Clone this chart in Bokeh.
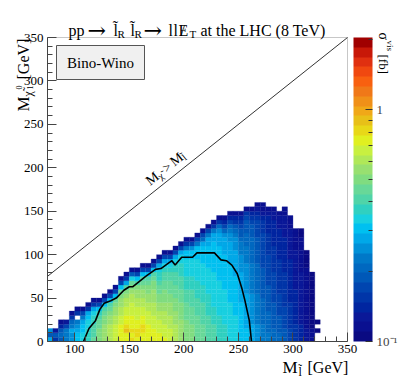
import math
from bokeh.plotting import figure
from bokeh.models import (LogColorMapper, ColorBar, FixedTicker, Label, BoxAnnotation,
                          ColumnDataSource, Range1d)
from bokeh.embed import file_html
from bokeh.resources import INLINE

# ---------------- data ----------------
x_bin_low = [75, 80, 85, 90, 95, 100, 105, 110, 115, 120, 125, 130, 135, 140, 145,
             150, 155, 160, 165, 170, 175, 180, 185, 190, 195, 200, 205, 210, 215, 220,
             225, 230, 235, 240, 245, 250, 255, 260, 265, 270, 275, 280, 285, 290, 295,
             300, 305, 310, 315, 320]
y_bin_size = 5
# colour-band index of every cell, one string per x bin, from y = 0 upwards ("." = empty)
column_levels = [
    "A69", "462", "67631", "88852", "99A8741", "BBA98.41", "CCBBA851", "DDDCCBA41",
    "FEEEDDCA41", "GGGFFEDB51", "HHHHGGFEB51", "IIIIHHGFEB51", "JJJJIIHHGFB51",
    "KKKKJJIIHHGFB51", "KKMLKKJJIIHGEA41", "LKLKKKJJJIIHGFC61", "KLLKKJJJIIHHGEB51",
    "KKLLKKJJIIHHGFEB51", "KKKKJJJIIHHGGFEB51", "KKKJJJIIIHHHGGFEB51",
    "KKJJJIIHHGGFFEDDCA51", "KJJJIIIHHGGGFFEEDCA51", "JJJIIIHHHGGFFFEEDCA51",
    "IIIIHHHGGGFFFEEEDDCA51", "HHHHHGGGGFFFEEEDDDCCA51", "GGGGGFFFFEEEDDDCCCCBB841",
    "GGGGFFFFEEEEDDDCCCCBB951", "FFFFFFEEEEDDDDCCCCCBBB851", "FFFFEEEEEDDDDCCCCCBBBBA751",
    "EEEEEEDDDDDCCCCCCBBBBBAA851", "EEEEDDDDCCCCCCCCBBBBBBBAA841",
    "DDDDDDCCCCCCCCBBBBBBBBAAA9741", "DDDDCCCCCCCCBBBBBBBBAAAA97531",
    "CCCCCCCCCBBBBBBBBBAAAAA9987531", "CCCCCCBBBBBBBBBAAAAAA999876431",
    "BBBBBBBBBAAAAAAA99998887665431", "BBBAAAAAAAA99999998888777666541",
    "AAAA999999988888887777776665431", "99998888888777777766666655554321",
    "88887777776666666555555554443211", "8877777666666555555544444333321",
    "7776666665555555444444333333221", "776666555554444444433333332221",
    "6665555544444444333333332222211", "55544444433333333332222222111",
    "44443333333322222222211111", "33332222222222221111111100",
    "222111111111111110000", "1110000000000000", "..0.0",
]
contour_x = [108, 113, 119, 123, 127, 133, 138, 145, 150, 153, 165, 174, 179, 189,
             192, 198, 208, 212, 228, 234, 239, 244, 249, 253, 256, 260, 262]
contour_y = [0, 15, 24, 37, 44, 47, 50, 59, 63, 63, 75, 83, 84, 93,
             88, 97, 97, 102, 102, 94, 93, 88, 78, 62, 47, 24, 0]
diag_x = [75, 350]
diag_y = [75, 350]

x_lim = (75, 350)
y_lim = (0, 350)
x_ticks = [100, 150, 200, 250, 300, 350]
y_ticks = [0, 50, 100, 150, 200, 250, 300, 350]
x_minor = [80, 90, 110, 120, 130, 140, 160, 170, 180, 190, 210, 220, 230, 240, 260,
           270, 280, 290, 310, 320, 330, 340]
y_minor = [10, 20, 30, 40, 60, 70, 80, 90, 110, 120, 130, 140, 160, 170, 180, 190,
           210, 220, 230, 240, 260, 270, 280, 290, 310, 320, 330, 340]
z_low, z_high = 0.1, 2.05
cbar_ticks = [0.1, 1]
cbar_minor = [0.2, 0.3, 0.4, 0.5, 0.6, 0.7, 0.8, 0.9, 2]
cbar_labels = {0.1: "10\u207b\u00b9", 1: "1"}

palette = ["#0a0a82", "#0a1090", "#0a1898", "#0025a0", "#0035a8", "#0045b0", "#0058b8",
           "#0068c0", "#0078c8", "#0090d8", "#00a8e8", "#00c0f0", "#18d0e0", "#30d0c0",
           "#50d4a8", "#68d898", "#80dc80", "#98e070", "#b0e858", "#c8f040", "#e0f020",
           "#e8d818", "#e8c018", "#f0a818", "#f09018", "#f07818", "#f86010", "#f04810",
           "#e03010", "#c81808", "#a00000"]

# ---------------- build cells ----------------
CODES = "0123456789ABCDEFGHIJKLMNOPQRSTU"
nb = len(palette)
xs, ys, zs = [], [], []
for c, col in enumerate(column_levels):
    for r, ch in enumerate(col):
        if ch == ".":
            continue
        j = CODES.index(ch)
        xs.append(x_bin_low[c] + y_bin_size / 2)
        ys.append(r * y_bin_size + y_bin_size / 2)
        zs.append(z_low * (z_high / z_low) ** ((j + 0.5) / nb))
src = ColumnDataSource(dict(x=xs, y=ys, z=zs))
mapper = LogColorMapper(palette=palette, low=z_low, high=z_high)

# ---------------- layout: the frame fills the canvas, the plot box sits inside -------
W, H = 398, 378
FX0, FX1, FYT, FY0 = 47, 347, 37, 341     # page pixels of the plot box
SX = (FX1 - FX0) / (x_lim[1] - x_lim[0])
SY = (FY0 - FYT) / (y_lim[1] - y_lim[0])
FONT = "Liberation Serif"

p = figure(width=W, height=H,
           x_range=Range1d(x_lim[0] - FX0 / SX, x_lim[0] + (W - FX0) / SX),
           y_range=Range1d(y_lim[0] - (H - FY0) / SY, y_lim[0] + FY0 / SY),
           output_backend="svg", toolbar_location=None,
           min_border=0, min_border_left=0, min_border_right=0, min_border_top=0,
           min_border_bottom=0, background_fill_color="white", border_fill_color="white")
p.title.visible = False
p.grid.visible = False
p.outline_line_color = None

p.rect(x="x", y="y", width=5, height=5, source=src,
       fill_color={"field": "z", "transform": mapper},
       line_color={"field": "z", "transform": mapper}, line_width=0.3)
p.line(diag_x, diag_y, line_color="#333333", line_width=1)
p.line(contour_x, contour_y, line_color="black", line_width=1.6)

p.add_layout(BoxAnnotation(left=x_lim[0], right=x_lim[1], bottom=y_lim[0], top=y_lim[1],
                           fill_alpha=0, line_color="#444444", line_width=1))

p.xaxis.ticker = FixedTicker(ticks=x_ticks, minor_ticks=x_minor)
p.yaxis.ticker = FixedTicker(ticks=y_ticks, minor_ticks=y_minor)
p.xaxis.fixed_location = y_lim[0]
p.yaxis.fixed_location = x_lim[0]
p.xaxis.bounds = x_lim
p.yaxis.bounds = y_lim
for ax in (p.xaxis[0], p.yaxis[0]):
    ax.major_tick_in = 9
    ax.major_tick_out = 0
    ax.minor_tick_in = 5
    ax.minor_tick_out = 0
    ax.axis_line_color = "#444444"
    ax.major_tick_line_color = "#444444"
    ax.minor_tick_line_color = "#444444"
    ax.major_label_text_font = FONT
    ax.major_label_text_font_size = "13px"
    ax.major_label_text_color = "black"
p.xaxis.major_label_standoff = 3
p.yaxis.major_label_standoff = 4

cb = ColorBar(color_mapper=mapper, ticker=FixedTicker(ticks=cbar_ticks, minor_ticks=cbar_minor),
              major_label_overrides=cbar_labels, width=19, height=FY0 - FYT, padding=0, margin=0,
              location=(353, H - FY0), label_standoff=4, major_tick_in=7, major_tick_out=0,
              minor_tick_in=4, minor_tick_out=0, major_tick_line_color="#333333",
              minor_tick_line_color="#333333", bar_line_color=None,
              major_label_text_font=FONT, major_label_text_font_size="13px",
              border_line_color=None, background_fill_color=None)
p.add_layout(cb)


# ---------------- texts (page-pixel placement; frame == canvas) ----------------
def put(px, py, text, size, angle=0.0, align="left", baseline="alphabetic", font=FONT):
    p.add_layout(Label(x=px, y=H - py, x_units="screen", y_units="screen", text=text,
                       angle=angle, angle_units="deg", text_font=font,
                       text_font_size=f"{size}px", text_align=align, text_baseline=baseline,
                       text_color="black"))


def put_run(px, py, angle, pieces):
    a = math.radians(angle)
    ux, uy = math.cos(a), -math.sin(a)
    vx, vy = -math.sin(a), -math.cos(a)
    for piece in pieces:
        text, size, along, up = piece[:4]
        font = piece[4] if len(piece) > 4 else FONT
        put(px + along * ux + up * vx, py + along * uy + up * vy, text, size, angle, font=font)


ARROW_FONT = "DejaVu Serif"
put_run(68, 30, 0, [("pp", 16, 0, 0), ("\u2192", 22, 19, 0, ARROW_FONT),
                    ("l\u0303", 16, 45, 0), ("R", 11, 49, -3),
                    ("l\u0303", 16, 62, 0), ("R", 11, 66, -3),
                    ("\u2192", 22, 75, 0, ARROW_FONT),
                    ("l", 16, 100, 0), ("l", 16, 105, 0),
                    ("E", 16, 110, 0), ("/", 16, 112, 0), ("T", 11, 121, -3),
                    ("at the LHC (8 TeV)", 16, 132, 0)])
put_run(282, 367, 0, [("M", 17, 0, 0), ("l\u0303", 12, 16, -4), ("[GeV]", 16, 25, 0)])
put_run(23, 111, 90, [("M", 17, 0, 0), ("\u03c7\u0303", 12, 15, -4), ("0", 8, 22, 5),
                      ("1", 8, 22, -6), ("[GeV]", 16, 32, 0)])
put_run(383, 32, -90, [("\u03c3", 14, 0, 0), ("vis", 9, 8, 6), ("[fb]", 13, 22, 0)])
put_run(147, 182, 38.5, [("M", 14, 0, 0), ("\u03c7\u0303", 10, 12, -3), (">", 13, 21, 0),
                         ("M", 14, 31, 0), ("l\u0303", 10, 43, -3)])

p.add_layout(BoxAnnotation(left=56, right=144, top=H - 45, bottom=H - 79,
                           left_units="screen", right_units="screen", top_units="screen",
                           bottom_units="screen", fill_color="#f0f0f0", fill_alpha=1,
                           line_color="#555555", line_width=1, line_alpha=1))
put(100, 62, "Bino-Wino", 15, align="center", baseline="middle")

open("out.html", "w").write(file_html(p, INLINE))
